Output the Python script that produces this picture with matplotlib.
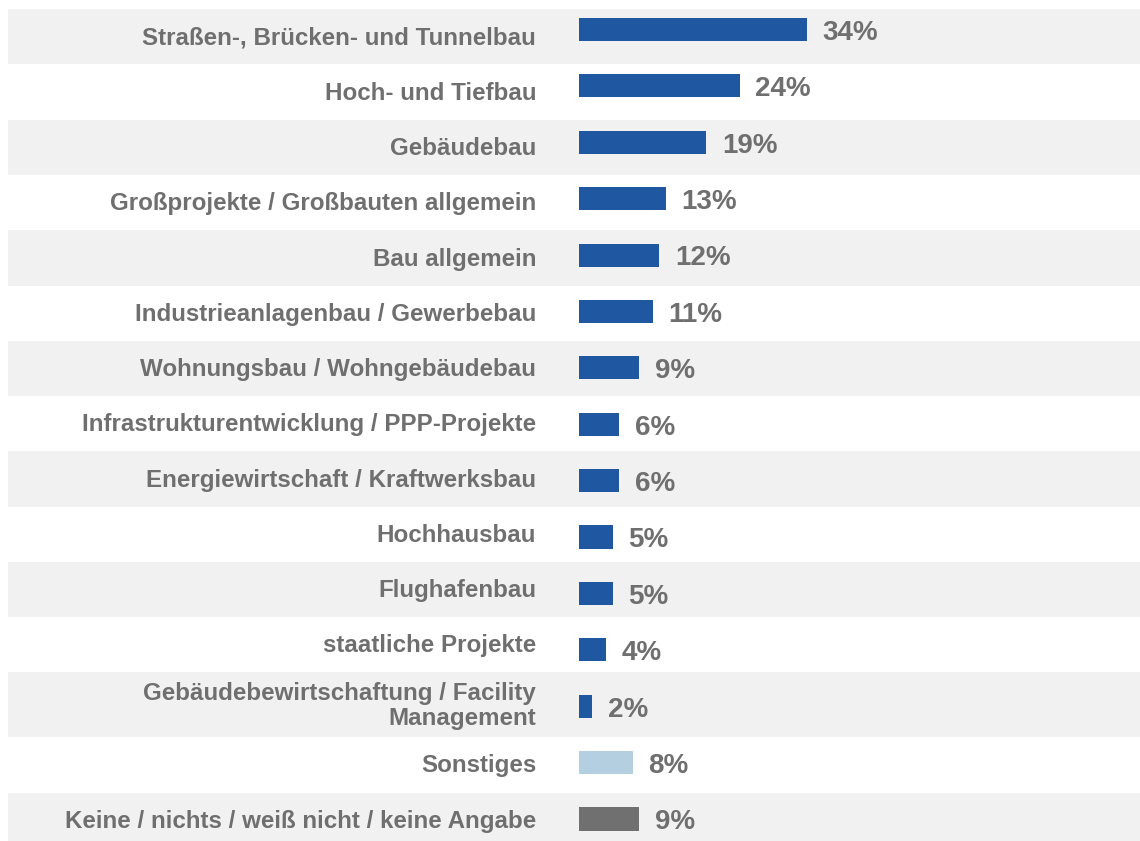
import matplotlib.pyplot as plt

categories = ["Straßen-, Brücken- und Tunnelbau", "Hoch- und Tiefbau", "Gebäudebau",
              "Großprojekte / Großbauten allgemein", "Bau allgemein",
              "Industrieanlagenbau / Gewerbebau", "Wohnungsbau / Wohngebäudebau",
              "Infrastrukturentwicklung / PPP-Projekte", "Energiewirtschaft / Kraftwerksbau",
              "Hochhausbau", "Flughafenbau", "staatliche Projekte",
              "Gebäudebewirtschaftung / Facility\nManagement", "Sonstiges",
              "Keine / nichts / weiß nicht / keine Angabe"]
values = [34, 24, 19, 13, 12, 11, 9, 6, 6, 5, 5, 4, 2, 8, 9]
value_labels = ["34%", "24%", "19%", "13%", "12%", "11%", "9%", "6%", "6%", "5%", "5%", "4%", "2%", "8%", "9%"]

blue = "#1f57a0"
colors = [blue] * 13 + ["#b4cfe0", "#707070"]
text_col = "#6f6f6f"
band_col = "#f1f1f1"

plt.rcParams['font.family'] = ['Liberation Sans', 'DejaVu Sans']

fig = plt.figure(figsize=(11.4, 8.41), dpi=100)
ax = fig.add_axes([0, 0, 1, 1])
ax.set_xlim(-86.4, 83.7)
ax.set_ylim(14.39, -0.523)
ax.axis("off")

# row bands (the two-line row is taller)
heights = [1.15 if "\n" in c else 0.98 for c in categories]
top = -0.36
for i, (c, h) in enumerate(zip(categories, heights)):
    if i % 2 == 0:
        ax.axhspan(top, top + h, xmin=8 / 1140, xmax=1, color=band_col, lw=0, zorder=0)
    ax.text(-6.4, top + h / 2 + 0.02, c, ha="right", va="center", ma="right", fontsize=17.4,
            fontweight="bold", color=text_col, linespacing=1.12)
    top += h

ypos = list(range(len(values)))
ax.barh(ypos, values, height=0.41, color=colors, zorder=2)
for y, v, lab in zip(ypos, values, value_labels):
    ax.text(v + 2.3, y + 0.06, lab, ha="left", va="center", fontsize=20,
            fontweight="bold", color=text_col)

fig.savefig("out.png", dpi=100)
